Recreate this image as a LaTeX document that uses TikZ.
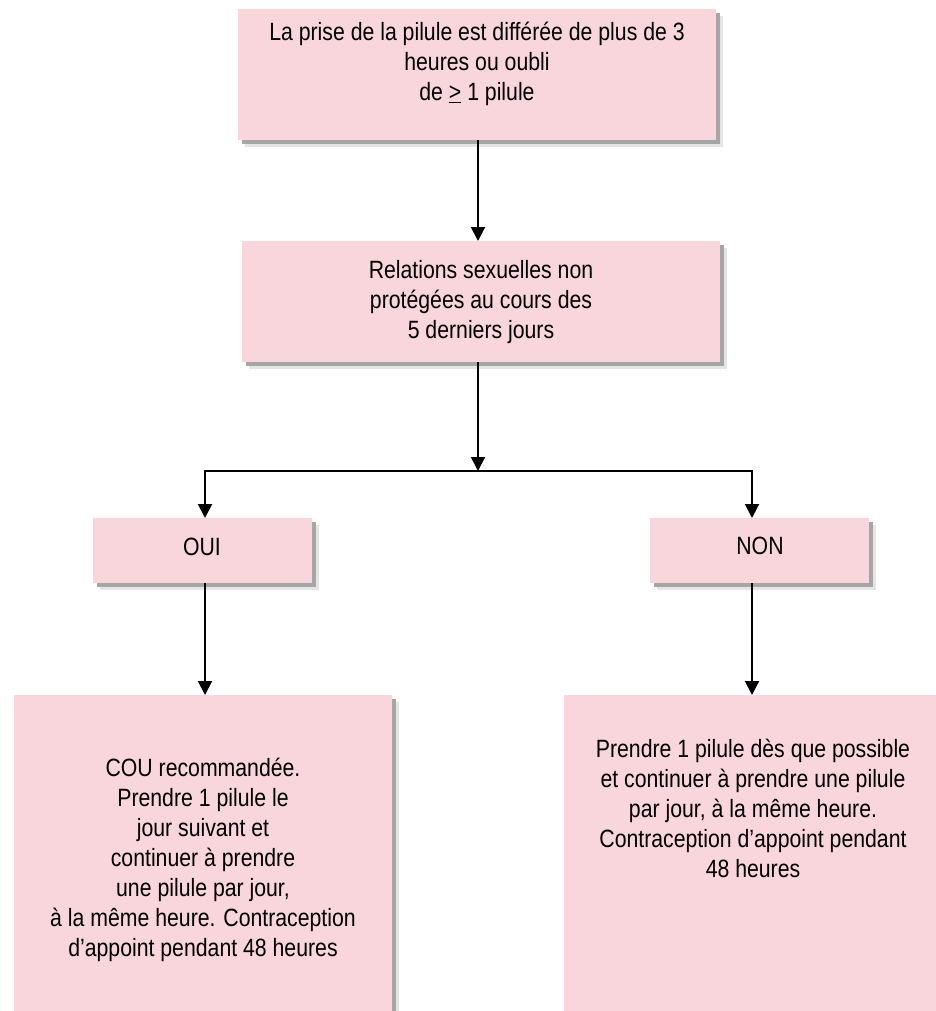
\documentclass[tikz,border=0pt]{standalone}
\usepackage{fontspec}
\setmainfont{Liberation Sans}
\newfontfamily\narrowarial[FakeStretch=0.85]{Liberation Sans}
\usetikzlibrary{arrows.meta,shadows}
\definecolor{boxpink}{RGB}{249,214,219}
\begin{document}
\begin{tikzpicture}[x=1pt,y=-1pt,
  box/.style={draw=none, fill=boxpink, rectangle, inner sep=0pt, anchor=north west,
    general shadow={fill=black!10, shadow xshift=6.5pt, shadow yshift=-6.5pt},
    general shadow={fill=black!35, shadow xshift=3.5pt, shadow yshift=-3.5pt}},
  txt/.style={align=center, font=\narrowarial\fontsize{25}{30}\selectfont, inner sep=0pt},
  arr/.style={line width=2pt, -{Triangle[length=14pt,width=14pt]}},
  ln/.style={line width=2pt}]
\useasboundingbox (0,0) rectangle (936,1011);
\clip (0,0) rectangle (936,1011);
\fill[white] (0,0) rectangle (936,1011);
% boxes
\node[box, minimum width=478pt, minimum height=131pt] (top) at (238,9) {};
\node[box, minimum width=478pt, minimum height=121pt] (mid) at (242,241) {};
\node[box, minimum width=219pt, minimum height=65pt] (oui) at (93,518) {};
\node[box, minimum width=219pt, minimum height=65pt] (non) at (650,518) {};
\node[box, minimum width=378pt, minimum height=340pt] (bl) at (14,695) {};
\node[box, minimum width=378pt, minimum height=340pt] (br) at (564,695) {};
% texts
\node[txt] (toptxt) at (477,64) {La prise de la pilule est différée de plus de 3\\heures ou oubli\\de \underline{>} 1 pilule};
\node[txt] (midtxt) at (481,302) {Relations sexuelles non\\protégées au cours des\\5 derniers jours};
\node[txt] (ouitxt) at (202,547) {OUI};
\node[txt] (nontxt) at (760,546) {NON};
\node[txt] (bltxt) at (203,860) {COU recommandée.\\Prendre 1 pilule le\\jour suivant et\\continuer à prendre\\une pilule par jour,\\à la même heure. Contraception\\d’appoint pendant 48 heures};
\node[txt] (brtxt) at (753,808) {Prendre 1 pilule dès que possible\\et continuer à prendre une pilule\\par jour, à la même heure.\\Contraception d’appoint pendant\\48 heures};
% connectors
\coordinate (j) at (478,471);
\coordinate (jl) at (205,471);
\coordinate (jr) at (752,471);
\draw[arr] (top.south -| j) -- (mid.north -| j);
\draw[arr] (mid.south -| j) -- (j);
\draw[arr] (j) -| (oui.north -| jl);
\draw[arr] (j) -| (non.north -| jr);
\draw[arr] (oui.south -| jl) -- (bl.north -| jl);
\draw[arr] (non.south -| jr) -- (br.north -| jr);
\end{tikzpicture}
\end{document}
